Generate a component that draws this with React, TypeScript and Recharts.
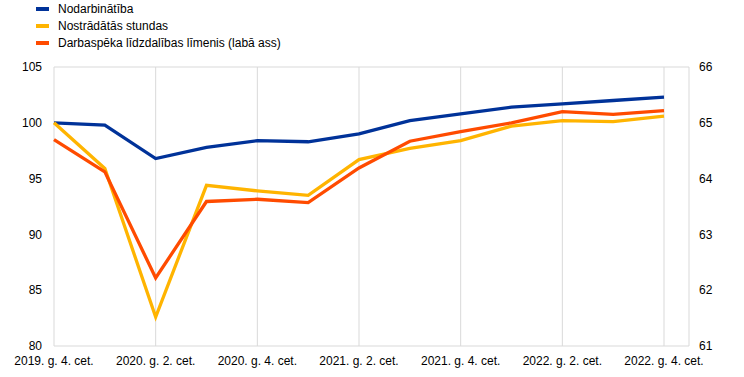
import { LineChart, Line, XAxis, YAxis, CartesianGrid } from "recharts";

const quarters = [
  "2019. g. 4. cet.",
  "2020. g. 1. cet.",
  "2020. g. 2. cet.",
  "2020. g. 3. cet.",
  "2020. g. 4. cet.",
  "2021. g. 1. cet.",
  "2021. g. 2. cet.",
  "2021. g. 3. cet.",
  "2021. g. 4. cet.",
  "2022. g. 1. cet.",
  "2022. g. 2. cet.",
  "2022. g. 3. cet.",
  "2022. g. 4. cet.",
];

const employment = [100.0, 99.8, 96.8, 97.8, 98.4, 98.3, 99.0, 100.2, 100.8, 101.4, 101.7, 102.0, 102.3];
const hoursWorked = [100.0, 95.9, 82.6, 94.4, 93.9, 93.5, 96.7, 97.7, 98.4, 99.7, 100.2, 100.1, 100.6];
const participation = [64.7, 64.12, 62.22, 63.59, 63.63, 63.57, 64.19, 64.67, 64.84, 65.0, 65.2, 65.15, 65.22];

const leftTicks = [80, 85, 90, 95, 100, 105];
const rightTicks = [61, 62, 63, 64, 65, 66];

const series = [
  { key: "employment", label: "Nodarbinātība", color: "#003299" },
  { key: "hours", label: "Nostrādātās stundas", color: "#FFB400" },
  { key: "participation", label: "Darbaspēka līdzdalības līmenis (labā ass)", color: "#FF4B00" },
];

const data = quarters.map((q, i) => ({
  q,
  employment: employment[i],
  hours: hoursWorked[i],
  participation: participation[i],
}));

const font = "'Liberation Sans', Arial, sans-serif";

export default function App() {
  return (
    <div style={{ position: "absolute", left: 0, top: 0, width: 744, height: 377, background: "#fff", fontFamily: font }}>
      <div style={{ position: "absolute", left: 36, top: 0 }}>
        {series.map((s) => (
          <div key={s.key} style={{ display: "flex", alignItems: "center", height: 17, fontSize: 12, color: "#000" }}>
            <span style={{ display: "inline-block", width: 13, height: 4, background: s.color, marginRight: 9 }} />
            {s.label}
          </div>
        ))}
      </div>
      <LineChart width={744} height={377} data={data} margin={{ top: 67, right: 0, bottom: 0, left: 0 }}>
        <CartesianGrid stroke="#d9d9d9" strokeWidth={1} />
        <XAxis
          dataKey="q"
          interval={1}
          padding={{ left: 0, right: 25 }}
          axisLine={false}
          tickLine={false}
          height={31}
          tick={{ fill: "#000", fontSize: 12, fontFamily: font }}
          tickMargin={4}
        />
        <YAxis
          yAxisId="left"
          domain={[80, 105]}
          ticks={leftTicks}
          width={54}
          axisLine={false}
          tickLine={false}
          tick={{ fill: "#000", fontSize: 12, fontFamily: font }}
          tickMargin={6}
        />
        <YAxis
          yAxisId="right"
          orientation="right"
          domain={[61, 66]}
          ticks={rightTicks}
          width={55}
          axisLine={false}
          tickLine={false}
          tick={{ fill: "#000", fontSize: 12, fontFamily: font }}
          tickMargin={4}
        />
        <Line yAxisId="left" dataKey="employment" stroke="#003299" strokeWidth={3.3} dot={false} isAnimationActive={false} />
        <Line yAxisId="left" dataKey="hours" stroke="#FFB400" strokeWidth={3.3} dot={false} isAnimationActive={false} />
        <Line yAxisId="right" dataKey="participation" stroke="#FF4B00" strokeWidth={3.3} dot={false} isAnimationActive={false} />
      </LineChart>
    </div>
  );
}
